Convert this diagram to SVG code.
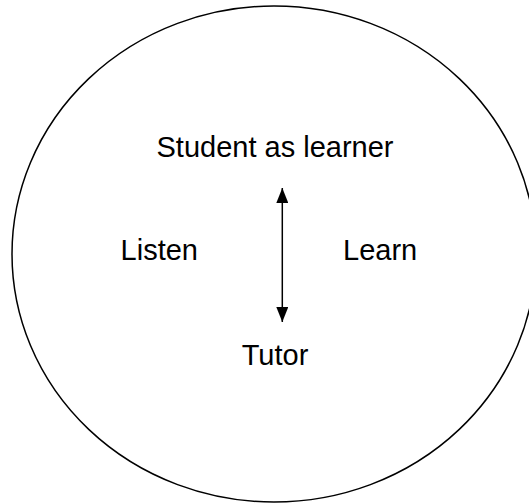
<svg xmlns="http://www.w3.org/2000/svg" width="529" height="504" viewBox="0 0 529 504">
<defs>
<style>
.t{font-family:"Liberation Sans",Arial,sans-serif;font-size:29px;fill:#000;}
.o{fill:none;stroke:#000;stroke-width:1.5;}
</style>
<marker id="ah" viewBox="0 0 15 12" refX="15" refY="6" markerWidth="15" markerHeight="12" markerUnits="userSpaceOnUse" orient="auto-start-reverse">
<path d="M0,0 L15,6 L0,12 Z" fill="#000"/>
</marker>
</defs>
<rect width="529" height="504" fill="#fff"/>
<g id="boundary"><ellipse class="o" cx="274" cy="254" rx="262" ry="248"/></g>
<g id="student"><text class="t" x="275" y="157" text-anchor="middle">Student as learner</text></g>
<g id="listen"><text class="t" x="198" y="260" text-anchor="end">Listen</text></g>
<g id="learn"><text class="t" x="343" y="260">Learn</text></g>
<g id="tutor"><text class="t" x="275" y="365" text-anchor="middle">Tutor</text></g>
<g id="connectors">
<line x1="282.3" y1="188" x2="282.3" y2="322" stroke="#000" stroke-width="1.5" marker-start="url(#ah)" marker-end="url(#ah)"/>
</g>
</svg>
